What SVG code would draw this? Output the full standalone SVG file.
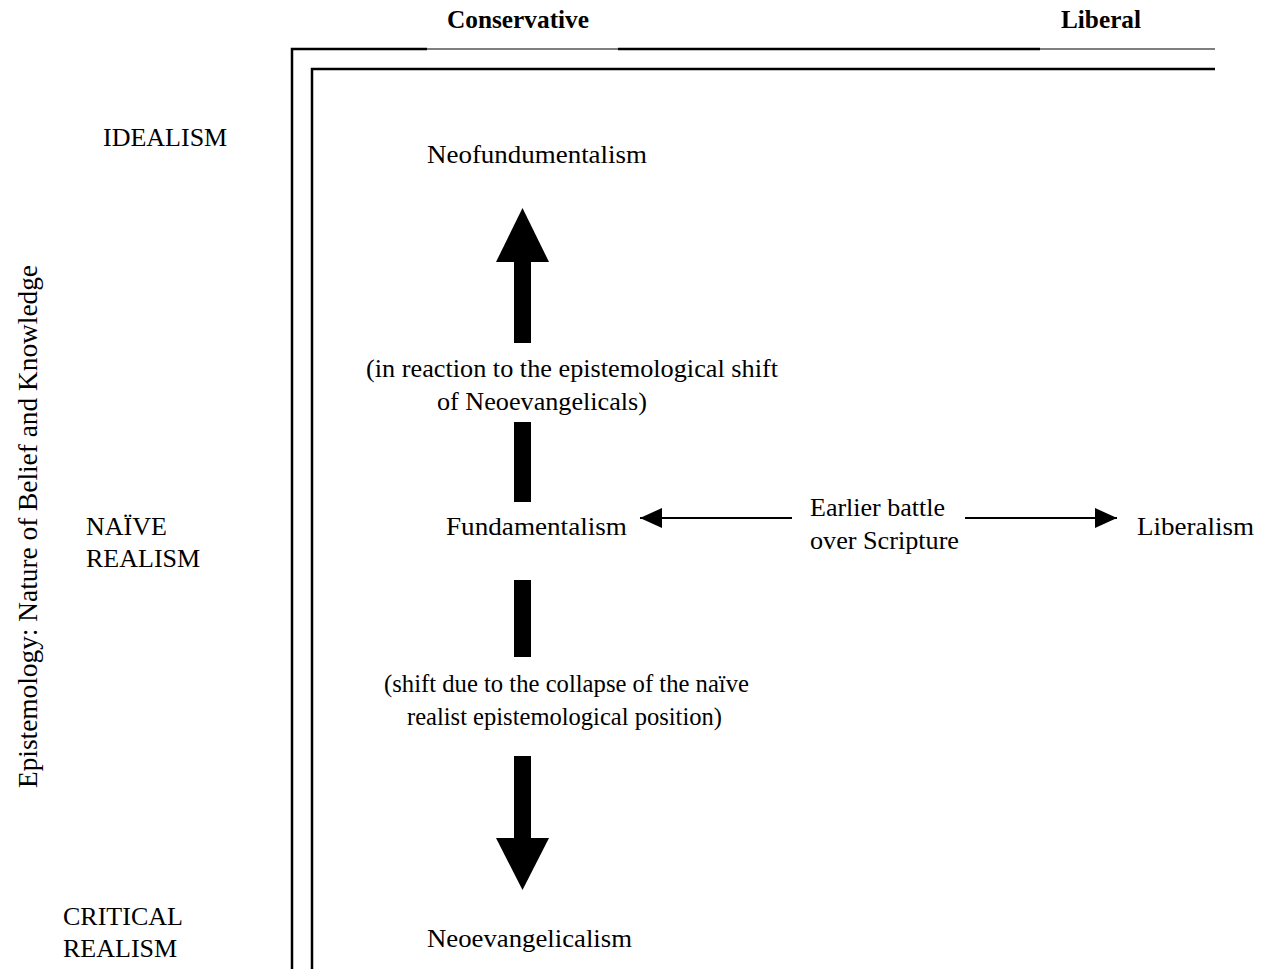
<svg xmlns="http://www.w3.org/2000/svg" width="1269" height="969" viewBox="0 0 1269 969">
  <style>
    .t { font-family: "Liberation Serif", "Times New Roman", serif; font-size: 26px; fill: #000; }
    .b { font-weight: bold; }
    .frame { stroke: #000; stroke-width: 2.5; fill: none; }
    .thin { stroke: #000; stroke-width: 1.2; fill: none; }
    .conn { stroke: #000; stroke-width: 2; fill: none; }
  </style>
  <defs>
    <marker id="head" viewBox="0 0 22 20" refX="22" refY="10" markerWidth="22" markerHeight="20" markerUnits="userSpaceOnUse" orient="auto">
      <path d="M0,0 L22,10 L0,20 Z" fill="#000"/>
    </marker>
  </defs>
  <rect width="1269" height="969" fill="#fff"/>

  <!-- axis frame -->
  <g id="frame">
    <path class="frame" d="M292,969 V49 H427"/>
    <path class="thin" d="M427,49 H618"/>
    <path class="frame" d="M618,49 H1040"/>
    <path class="thin" d="M1040,49 H1215"/>
    <path class="frame" d="M312,969 V69 H1215"/>
  </g>

  <!-- axis labels -->
  <g id="axis-labels">
    <text class="t b" x="447" y="28" textLength="142" lengthAdjust="spacingAndGlyphs">Conservative</text>
    <text class="t b" x="1061" y="28" textLength="80" lengthAdjust="spacingAndGlyphs">Liberal</text>
    <text class="t" style="font-size:27px" transform="translate(37,788) rotate(-90)" textLength="523" lengthAdjust="spacingAndGlyphs">Epistemology: Nature of Belief and Knowledge</text>
    <text class="t" x="103" y="146">IDEALISM</text>
    <text class="t" x="86" y="535">NAÏVE</text>
    <text class="t" x="86" y="567">REALISM</text>
    <text class="t" x="63" y="925">CRITICAL</text>
    <text class="t" x="63" y="957">REALISM</text>
  </g>

  <!-- positions -->
  <g id="neofundamentalism"><text class="t" x="427" y="163" textLength="220" lengthAdjust="spacingAndGlyphs">Neofundumentalism</text></g>
  <g id="fundamentalism"><text class="t" x="446" y="535" textLength="181" lengthAdjust="spacingAndGlyphs">Fundamentalism</text></g>
  <g id="liberalism"><text class="t" x="1137" y="535" textLength="117" lengthAdjust="spacingAndGlyphs">Liberalism</text></g>
  <g id="neoevangelicalism"><text class="t" x="427" y="947" textLength="205" lengthAdjust="spacingAndGlyphs">Neoevangelicalism</text></g>
  <g id="battle">
    <text class="t" x="810" y="516" textLength="135" lengthAdjust="spacingAndGlyphs">Earlier battle</text>
    <text class="t" x="810" y="549" textLength="149" lengthAdjust="spacingAndGlyphs">over Scripture</text>
  </g>
  <g id="upper-shift">
    <text class="t" x="366" y="377" textLength="412" lengthAdjust="spacingAndGlyphs">(in reaction to the epistemological shift</text>
    <text class="t" x="437" y="410" textLength="210" lengthAdjust="spacingAndGlyphs">of Neoevangelicals)</text>
  </g>
  <g id="lower-shift">
    <text class="t" x="384" y="692" textLength="365" lengthAdjust="spacingAndGlyphs">(shift due to the collapse of the naïve</text>
    <text class="t" x="407" y="725" textLength="315" lengthAdjust="spacingAndGlyphs">realist epistemological position)</text>
  </g>

  <!-- connectors -->
  <g id="connectors" fill="#000">
    <rect x="514" y="422" width="17" height="80"/>
    <rect x="514" y="262" width="17" height="81"/>
    <polygon points="522.5,208 496,262 549,262"/>
    <rect x="514" y="580" width="17" height="77"/>
    <rect x="514" y="756" width="17" height="83"/>
    <polygon points="496,838 549,838 522.5,890"/>
    <line class="conn" x1="792" y1="518" x2="640" y2="518" marker-end="url(#head)"/>
    <line class="conn" x1="965" y1="518" x2="1117" y2="518" marker-end="url(#head)"/>
  </g>
</svg>
